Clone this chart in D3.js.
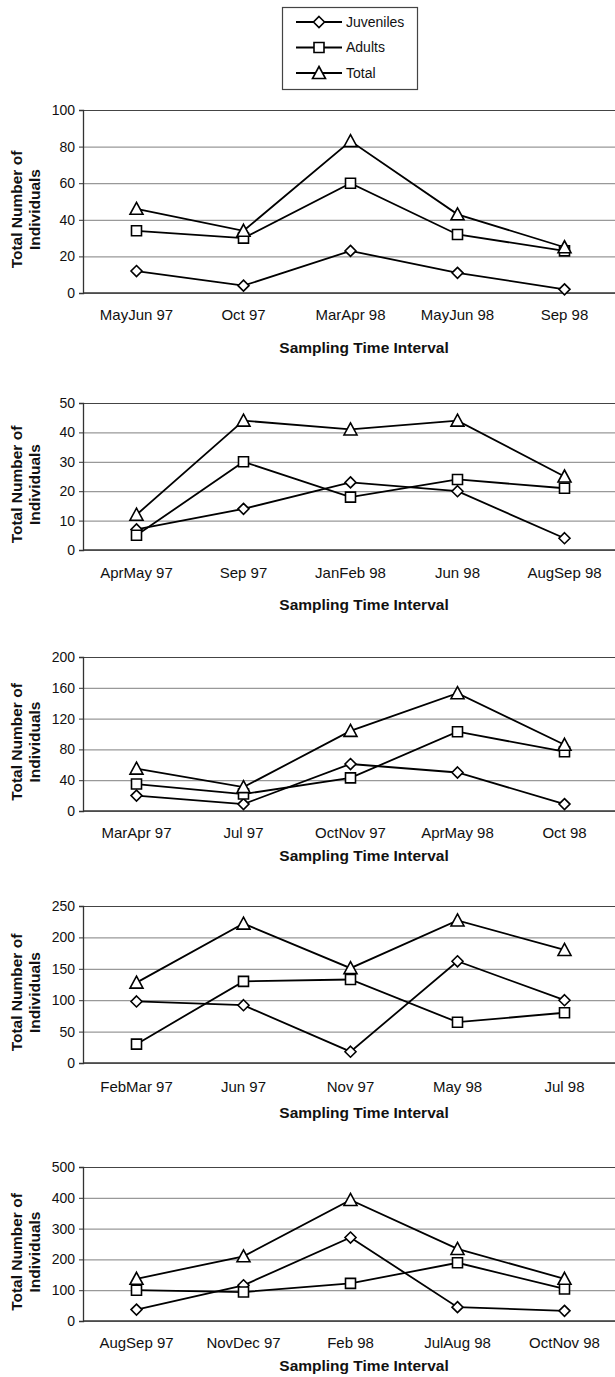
<!DOCTYPE html>
<html>
<head>
<meta charset="utf-8">
<script src="https://cdn.jsdelivr.net/npm/d3@7"></script>
<style>
  body { margin: 0; background: #fff; }
  text { font-family: "Liberation Sans", Arial, sans-serif; fill: #111; }
</style>
</head>
<body>
<script>
let width = 615;
let height = 1377;

// chart data, one block per panel
let categories1 = ['MayJun 97', 'Oct 97', 'MarApr 98', 'MayJun 98', 'Sep 98'];
let juveniles1 = [12, 4, 23, 11, 2];
let adults1 = [34, 30, 60, 32, 23];
let total1 = [46, 34, 83, 43, 25];
let yTicks1 = [0, 20, 40, 60, 80, 100];

let categories2 = ['AprMay 97', 'Sep 97', 'JanFeb 98', 'Jun 98', 'AugSep 98'];
let juveniles2 = [7, 14, 23, 20, 4];
let adults2 = [5, 30, 18, 24, 21];
let total2 = [12, 44, 41, 44, 25];
let yTicks2 = [0, 10, 20, 30, 40, 50];

let categories3 = ['MarApr 97', 'Jul 97', 'OctNov 97', 'AprMay 98', 'Oct 98'];
let juveniles3 = [20, 9, 61, 50, 9];
let adults3 = [35, 22, 43, 103, 77];
let total3 = [55, 31, 104, 153, 86];
let yTicks3 = [0, 40, 80, 120, 160, 200];

let categories4 = ['FebMar 97', 'Jun 97', 'Nov 97', 'May 98', 'Jul 98'];
let juveniles4 = [98, 92, 18, 162, 100];
let adults4 = [30, 130, 133, 65, 80];
let total4 = [128, 222, 151, 227, 180];
let yTicks4 = [0, 50, 100, 150, 200, 250];

let categories5 = ['AugSep 97', 'NovDec 97', 'Feb 98', 'JulAug 98', 'OctNov 98'];
let juveniles5 = [37, 116, 271, 45, 33];
let adults5 = [100, 94, 122, 189, 104];
let total5 = [137, 210, 393, 234, 137];
let yTicks5 = [0, 100, 200, 300, 400, 500];

let seriesNames = ['Juveniles', 'Adults', 'Total'];
let yTitle = ['Total Number of', 'Individuals'];
let xTitle = 'Sampling Time Interval';

let panels = [
    { cats: categories1, series: [juveniles1, adults1, total1], ticks: yTicks1 },
    { cats: categories2, series: [juveniles2, adults2, total2], ticks: yTicks2 },
    { cats: categories3, series: [juveniles3, adults3, total3], ticks: yTicks3 },
    { cats: categories4, series: [juveniles4, adults4, total4], ticks: yTicks4 },
    { cats: categories5, series: [juveniles5, adults5, total5], ticks: yTicks5 }
];

// vertical placement of each panel
let layout = [
    { top: 110, bottom: 293, labelY: 315, titleY: 348 },
    { top: 403, bottom: 550, labelY: 573, titleY: 605 },
    { top: 657, bottom: 811, labelY: 833, titleY: 856 },
    { top: 906, bottom: 1063, labelY: 1087, titleY: 1113 },
    { top: 1167, bottom: 1321, labelY: 1343, titleY: 1366 }
];

let plotLeft = 83;
let plotRight = 618;

let svg = d3.select('body').append('svg')
            .attr('width', width)
            .attr('height', height);

// marker shapes
function markerPath(kind) {
    if (kind === 0) {
        let r = 5.5;
        return 'M0,' + (-r) + 'L' + r + ',0L0,' + r + 'L' + (-r) + ',0Z';
    } else if (kind === 1) {
        let s = 5;
        return 'M' + (-s) + ',' + (-s) + 'H' + s + 'V' + s + 'H' + (-s) + 'Z';
    }
    let h = 5.5;
    return 'M0,' + (-h - 1) + 'L' + (h + 1) + ',' + h + 'L' + (-h - 1) + ',' + h + 'Z';
}

panels.forEach(function(p, pi) {
    let lay = layout[pi];
    let g = svg.append('g');

    let xScale = d3.scaleBand()
                    .domain(p.cats)
                    .range([plotLeft, plotRight]);

    let yScale = d3.scaleLinear()
                    .domain([0, d3.max(p.ticks)])
                    .range([lay.bottom, lay.top]);

    // gridlines
    g.append('g')
        .attr('transform', 'translate(' + plotLeft + ',0)')
        .call(d3.axisLeft(yScale).tickValues(p.ticks).tickSize(-(width - plotLeft)).tickFormat(''))
        .call(function(a) { a.select('.domain').remove(); })
        .selectAll('line')
        .attr('stroke', function(d) { return d === d3.max(p.ticks) ? '#444' : '#999'; })
        .attr('stroke-width', 1.2);

    // y axis with ticks and labels
    let yAxis = g.append('g')
        .attr('transform', 'translate(' + plotLeft + ',0)')
        .call(d3.axisLeft(yScale).tickValues(p.ticks).tickSize(4).tickPadding(4));
    yAxis.select('.domain').attr('stroke', '#333').attr('stroke-width', 1.3);
    yAxis.selectAll('line').attr('stroke', '#333');
    yAxis.selectAll('text')
        .style('font-size', '14px')
        .attr('fill', '#111');

    // bottom axis line
    g.append('line')
        .attr('x1', plotLeft).attr('x2', width)
        .attr('y1', yScale(0)).attr('y2', yScale(0))
        .attr('stroke', '#333')
        .attr('stroke-width', 1.5);

    // category labels
    let xAxis = g.append('g')
        .attr('transform', 'translate(0,' + (lay.labelY - 6) + ')')
        .call(d3.axisBottom(xScale).tickSize(0).tickPadding(0));
    xAxis.select('.domain').remove();
    xAxis.selectAll('text')
        .style('font-size', '15px')
        .attr('fill', '#111');

    // axis titles
    g.append('text')
        .attr('x', 364)
        .attr('y', lay.titleY)
        .attr('dy', '0.35em')
        .attr('text-anchor', 'middle')
        .style('font-size', '15.5px')
        .style('font-weight', 'bold')
        .text(xTitle);

    let midY = (lay.top + lay.bottom) / 2 + 8;
    yTitle.forEach(function(t, i) {
        g.append('text')
            .attr('transform', 'translate(' + (17 + i * 18) + ',' + midY + ') rotate(-90)')
            .attr('dy', '0.35em')
            .attr('text-anchor', 'middle')
            .style('font-size', '15.5px')
            .style('font-weight', 'bold')
            .text(t);
    });

    let line = d3.line()
        .x(function(d, i) { return xScale(p.cats[i]) + xScale.bandwidth() / 2; })
        .y(function(d) { return yScale(d); });

    p.series.forEach(function(s) {
        g.append('path')
            .datum(s)
            .attr('d', line)
            .attr('fill', 'none')
            .attr('stroke', '#000')
            .attr('stroke-width', 1.8);
    });

    p.series.forEach(function(s, si) {
        g.append('g').selectAll('path')
            .data(s)
            .enter()
            .append('path')
            .attr('transform', function(d, i) {
                return 'translate(' + (xScale(p.cats[i]) + xScale.bandwidth() / 2) + ',' + yScale(d) + ')';
            })
            .attr('d', markerPath(si))
            .attr('fill', '#fff')
            .attr('stroke', '#000')
            .attr('stroke-width', 1.6);
    });
});

// legend
let legend = svg.append('g');
legend.append('rect')
    .attr('x', 282.5).attr('y', 7.5)
    .attr('width', 135).attr('height', 82)
    .attr('fill', '#fff')
    .attr('stroke', '#444')
    .attr('stroke-width', 1.2);

let legendY = d3.scalePoint().domain(seriesNames).range([22, 73]);

seriesNames.forEach(function(name, i) {
    let y = legendY(name);
    legend.append('line')
        .attr('x1', 296).attr('x2', 342)
        .attr('y1', y).attr('y2', y)
        .attr('stroke', '#000')
        .attr('stroke-width', 1.8);
    legend.append('path')
        .attr('transform', 'translate(319,' + y + ')')
        .attr('d', markerPath(i))
        .attr('fill', '#fff')
        .attr('stroke', '#000')
        .attr('stroke-width', 1.6);
    legend.append('text')
        .attr('x', 346)
        .attr('y', y)
        .attr('dy', '0.35em')
        .style('font-size', '14px')
        .text(name);
});
</script>
</body>
</html>
